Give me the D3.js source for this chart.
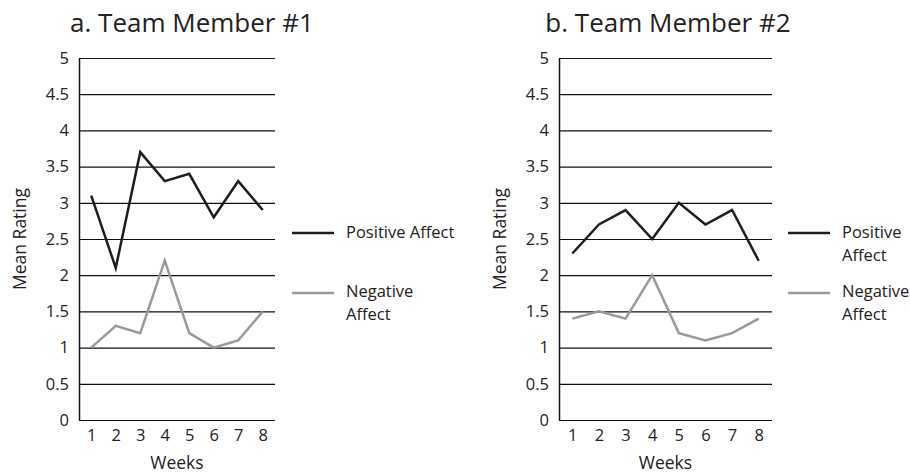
<!DOCTYPE html>
<html lang="en">
<head>
<meta charset="UTF-8">
<title>Team Member Affect</title>
<style>
  body { margin: 0; background: #fff; }
  svg text { font-family: "Open Sans", sans-serif; fill: #222; }
</style>
</head>
<body>
<svg id="chart" width="910" height="473"></svg>
<script src="https://d3js.org/d3.v7.min.js"></script>
<script>
const weeks = [1, 2, 3, 4, 5, 6, 7, 8];
const yTicks = [0, 0.5, 1, 1.5, 2, 2.5, 3, 3.5, 4, 4.5, 5];

const member1Positive = [3.1, 2.1, 3.7, 3.3, 3.4, 2.8, 3.3, 2.9];
const member1Negative = [1.0, 1.3, 1.2, 2.2, 1.2, 1.0, 1.1, 1.5];
const member2Positive = [2.3, 2.7, 2.9, 2.5, 3.0, 2.7, 2.9, 2.2];
const member2Negative = [1.4, 1.5, 1.4, 2.0, 1.2, 1.1, 1.2, 1.4];

const posColor = '#1e1e1e';
const negColor = '#9a9a9a';

const svg = d3.select('#chart');

const panels = [
  { title: 'a. Team Member #1', pos: member1Positive, neg: member1Negative,
    x0: 79, x1: 275, titleX: 192, ylabX: 26,
    legend: { lineX: 292, textX: 346, posLines: ['Positive Affect'], negLines: ['Negative', 'Affect'] } },
  { title: 'b. Team Member #2', pos: member2Positive, neg: member2Negative,
    x0: 559, x1: 772, titleX: 668, ylabX: 506,
    legend: { lineX: 788, textX: 842, posLines: ['Positive', 'Affect'], negLines: ['Negative', 'Affect'] } }
];

const y = d3.scaleLinear().domain([0, 5]).range([420, 58]);

panels.forEach(p => {
  const g = svg.append('g');
  const x = d3.scalePoint().domain(weeks).range([p.x0, p.x1]).padding(0.5);

  // gridlines
  g.selectAll('line.grid').data(yTicks).join('line')
    .attr('x1', p.x0).attr('x2', p.x1)
    .attr('y1', d => y(d) + 0.5).attr('y2', d => y(d) + 0.5)
    .attr('stroke', '#111').attr('stroke-width', 1.2);

  // y axis
  const yAxis = g.append('g').attr('transform', `translate(${p.x0},0)`)
    .call(d3.axisLeft(y).tickValues(yTicks).tickSize(0).tickPadding(10).tickFormat(d => d))
    .attr('font-size', null).attr('font-family', null);
  yAxis.select('.domain').attr('stroke', '#111').attr('stroke-width', 1.5);
  yAxis.selectAll('text').style('font-size', '16.5px').style('fill', '#222');

  // x axis
  const xAxis = g.append('g').attr('transform', `translate(0,420)`)
    .call(d3.axisBottom(x).tickSize(0).tickPadding(9))
    .attr('font-size', null).attr('font-family', null);
  xAxis.select('.domain').remove();
  xAxis.selectAll('text').style('font-size', '16.5px').style('fill', '#222');

  const line = d3.line().x((d, i) => x(weeks[i])).y(d => y(d));

  g.append('path').datum(p.neg).attr('d', line)
    .attr('fill', 'none').attr('stroke', negColor).attr('stroke-width', 2.5);
  g.append('path').datum(p.pos).attr('d', line)
    .attr('fill', 'none').attr('stroke', posColor).attr('stroke-width', 2.5);

  // titles
  g.append('text').attr('x', p.titleX).attr('y', 32)
    .attr('text-anchor', 'middle').style('font-size', '26px').text(p.title);
  g.append('text').attr('x', (p.x0 + p.x1) / 2).attr('y', 469)
    .attr('text-anchor', 'middle').style('font-size', '17.5px').text('Weeks');
  g.append('text').attr('transform', `translate(${p.ylabX},239) rotate(-90)`)
    .attr('text-anchor', 'middle').style('font-size', '17.5px').text('Mean Rating');

  // legend
  const lg = p.legend;
  g.append('line').attr('x1', lg.lineX).attr('x2', lg.lineX + 42)
    .attr('y1', 233).attr('y2', 233).attr('stroke', posColor).attr('stroke-width', 2.5);
  lg.posLines.forEach((t, i) => {
    g.append('text').attr('x', lg.textX).attr('y', 238 + i * 23).style('font-size', '16.5px').text(t);
  });
  g.append('line').attr('x1', lg.lineX).attr('x2', lg.lineX + 42)
    .attr('y1', 293).attr('y2', 293).attr('stroke', negColor).attr('stroke-width', 2.5);
  lg.negLines.forEach((t, i) => {
    g.append('text').attr('x', lg.textX).attr('y', 297 + i * 23).style('font-size', '16.5px').text(t);
  });
});
</script>
</body>
</html>
